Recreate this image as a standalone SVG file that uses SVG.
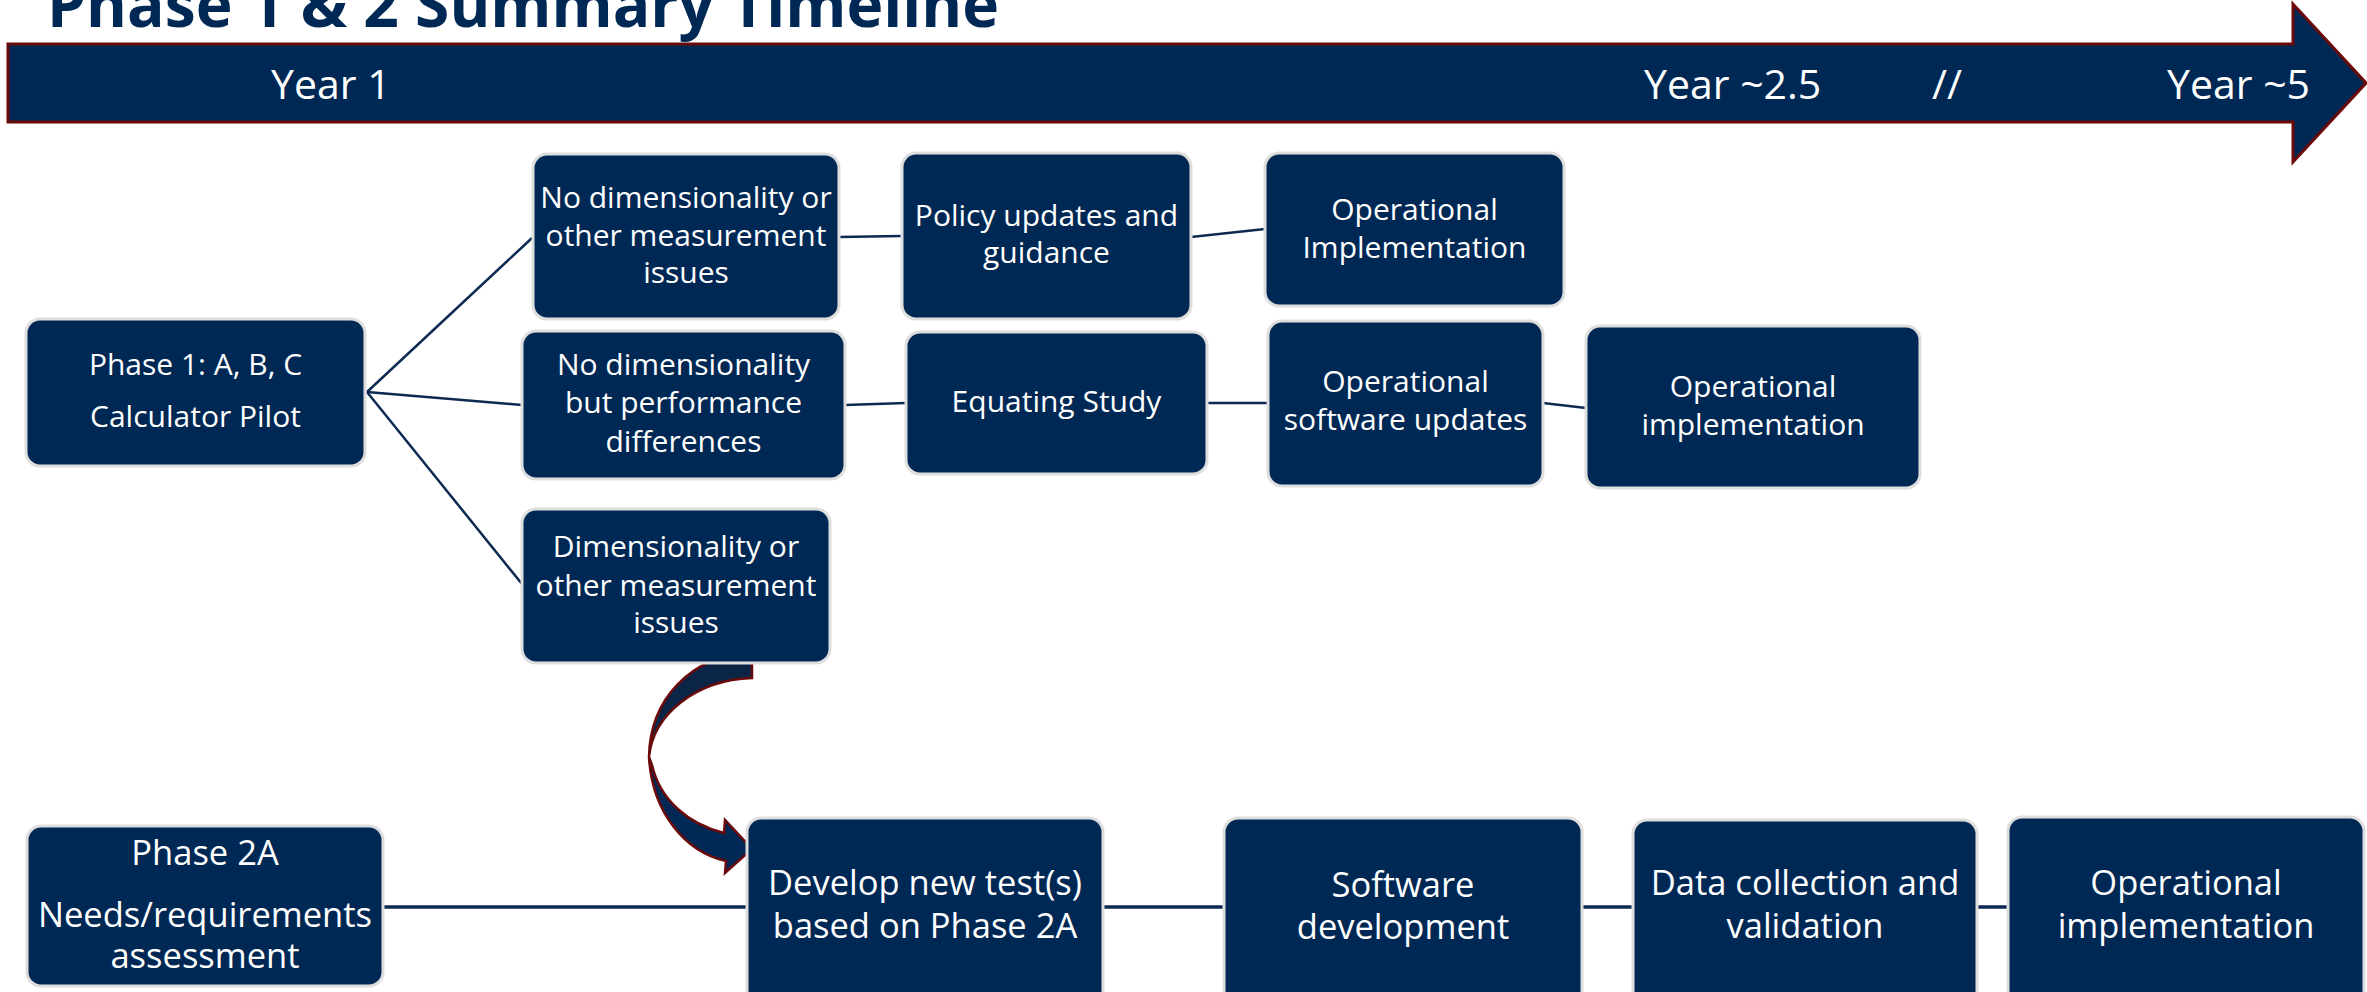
<svg xmlns="http://www.w3.org/2000/svg" width="2367" height="992" viewBox="0 0 2367 992">
  <style>
    .box { fill: #002855; stroke: #dedede; stroke-width: 3; }
    .t { fill: #ffffff; font-family: "Open Sans", "Liberation Sans", sans-serif; font-size: 30px; text-anchor: middle; }
    .t2 { font-size: 34.5px; }
    .yr { fill: #ffffff; font-family: "Open Sans", "Liberation Sans", sans-serif; font-size: 41px; }
    .link { stroke: #0d2a52; stroke-width: 2.5; fill: none; }
    .link2 { stroke: #0d2a52; stroke-width: 3.5; fill: none; }
  </style>

  <rect width="2367" height="992" fill="#ffffff"/>

  <!-- Title -->
  <text x="47" y="27" font-family="'Open Sans', 'Liberation Sans', sans-serif" font-size="62" font-weight="bold" fill="#002855" textLength="952" lengthAdjust="spacingAndGlyphs">Phase 1 &amp; 2 Summary Timeline</text>

  <!-- Timeline banner -->
  <g id="timeline">
    <polygon points="8,44 2293,44 2293,4 2366,83 2293,162 2293,122 8,122" fill="#002855" stroke="#6b0a0a" stroke-width="3"/>
    <text class="yr" x="271" y="99">Year 1</text>
    <text class="yr" x="1644" y="99">Year ~2.5</text>
    <text class="yr" x="1932" y="99">//</text>
    <text class="yr" x="2167" y="99">Year ~5</text>
  </g>

  <!-- Connectors -->
  <g id="connectors">
    <line class="link" x1="367" y1="392" x2="532" y2="238"/>
    <line class="link" x1="367" y1="392" x2="522" y2="405"/>
    <line class="link" x1="367" y1="392" x2="522" y2="584"/>
    <line class="link" x1="839" y1="237" x2="902" y2="236"/>
    <line class="link" x1="1191" y1="237" x2="1265" y2="229"/>
    <line class="link" x1="845" y1="405" x2="906" y2="403"/>
    <line class="link" x1="1207" y1="403" x2="1268" y2="403"/>
    <line class="link" x1="1543" y1="403" x2="1586" y2="408"/>
    <line class="link2" x1="383" y1="907" x2="747" y2="907"/>
    <line class="link2" x1="1103" y1="907" x2="1224" y2="907"/>
    <line class="link2" x1="1582" y1="907" x2="1633" y2="907"/>
    <line class="link2" x1="1977" y1="907" x2="2008" y2="907"/>
  </g>

  <!-- Curved arrow from the measurement-issues branch to Phase 2 development -->
  <g id="curved-arrow" stroke="#6b0a0a" stroke-width="2.5" stroke-linejoin="miter">
    <path d="M 752,653 C 690,655 650,700 649,757 C 653,715 695,680 752,678 Z" fill="#0b2546"/>
    <path d="M 649,757 C 652,812 685,852 726,861 L 725,873 L 752,849 L 725,820 L 724,833 C 688,824 660,800 652,765 Z" fill="#002855"/>
  </g>

  <g id="phase1">
    <rect class="box" x="26" y="319" width="339" height="147" rx="14"/>
    <text class="t" x="195.5" y="375">Phase 1: A, B, C</text>
    <text class="t" x="195.5" y="427">Calculator Pilot</text>
  </g>

  <g id="no-dim-issues">
    <rect class="box" x="533" y="154" width="306" height="165" rx="14"/>
    <text class="t" x="686" y="208">No dimensionality or</text>
    <text class="t" x="686" y="246">other measurement</text>
    <text class="t" x="686" y="283">issues</text>
  </g>

  <g id="no-dim-performance">
    <rect class="box" x="522" y="331" width="323" height="148" rx="14"/>
    <text class="t" x="683.5" y="375">No dimensionality</text>
    <text class="t" x="683.5" y="413">but performance</text>
    <text class="t" x="683.5" y="452">differences</text>
  </g>

  <g id="dim-issues">
    <rect class="box" x="522" y="509" width="308" height="154" rx="14"/>
    <text class="t" x="676" y="557">Dimensionality or</text>
    <text class="t" x="676" y="596">other measurement</text>
    <text class="t" x="676" y="633">issues</text>
  </g>

  <g id="policy">
    <rect class="box" x="902" y="153" width="289" height="166" rx="14"/>
    <text class="t" x="1046.5" y="226">Policy updates and</text>
    <text class="t" x="1046.5" y="263">guidance</text>
  </g>

  <g id="operational-implementation-1">
    <rect class="box" x="1265" y="153" width="299" height="153" rx="14"/>
    <text class="t" x="1414.5" y="220">Operational</text>
    <text class="t" x="1414.5" y="258">Implementation</text>
  </g>

  <g id="equating">
    <rect class="box" x="906" y="332" width="301" height="142" rx="14"/>
    <text class="t" x="1056.5" y="412">Equating Study</text>
  </g>

  <g id="software-updates">
    <rect class="box" x="1268" y="321" width="275" height="165" rx="14"/>
    <text class="t" x="1405.5" y="392">Operational</text>
    <text class="t" x="1405.5" y="430">software updates</text>
  </g>

  <g id="operational-implementation-2">
    <rect class="box" x="1586" y="326" width="334" height="162" rx="14"/>
    <text class="t" x="1753" y="397">Operational</text>
    <text class="t" x="1753" y="435">implementation</text>
  </g>

  <g id="phase2a">
    <rect class="box" x="27" y="826" width="356" height="160" rx="14"/>
    <text class="t t2" x="205" y="865">Phase 2A</text>
    <text class="t t2" x="205" y="927">Needs/requirements</text>
    <text class="t t2" x="205" y="968">assessment</text>
  </g>

  <g id="develop">
    <rect class="box" x="747" y="818" width="356" height="190" rx="14"/>
    <text class="t t2" x="925" y="895">Develop new test(s)</text>
    <text class="t t2" x="925" y="938">based on Phase 2A</text>
  </g>

  <g id="software-development">
    <rect class="box" x="1224" y="818" width="358" height="190" rx="14"/>
    <text class="t t2" x="1403" y="897">Software</text>
    <text class="t t2" x="1403" y="939">development</text>
  </g>

  <g id="data-collection">
    <rect class="box" x="1633" y="820" width="344" height="190" rx="14"/>
    <text class="t t2" x="1805" y="895">Data collection and</text>
    <text class="t t2" x="1805" y="938">validation</text>
  </g>

  <g id="operational-implementation-3">
    <rect class="box" x="2008" y="817" width="356" height="190" rx="14"/>
    <text class="t t2" x="2186" y="895">Operational</text>
    <text class="t t2" x="2186" y="938">implementation</text>
  </g>
</svg>
